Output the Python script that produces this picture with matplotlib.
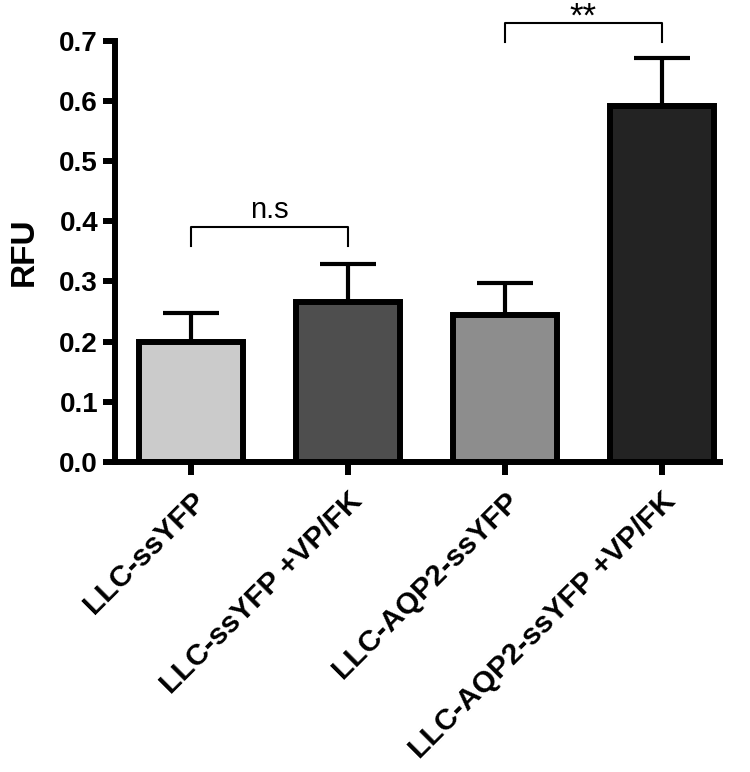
import numpy as np
import matplotlib.pyplot as plt

plt.rcParams['font.family'] = ['Liberation Sans', 'DejaVu Sans']

groups = ["LLC-ssYFP", "LLC-ssYFP +VP/FK", "LLC-AQP2-ssYFP", "LLC-AQP2-ssYFP +VP/FK"]
rfu = [0.200, 0.266, 0.244, 0.592]
sem = [0.048, 0.063, 0.053, 0.080]
colors = ["#cbcbcb", "#4e4e4e", "#8d8d8d", "#232323"]

# significance brackets: (left bar, right bar, height, drop, label, size, text offset)
brackets = [(0, 1, 0.39, 0.031, "n.s", 21, 0.015), (2, 3, 0.729, 0.031, "**", 25, -0.006)]

fig = plt.figure(figsize=(7.5, 7.72), dpi=100)
ax = fig.add_axes([0.153, 0.4016, 0.807, 0.5457])

x = np.arange(len(groups))
ax.bar(x, rfu, width=0.66, color=colors, edgecolor="black", linewidth=4.3, zorder=2)
ax.errorbar(x, rfu, yerr=[np.zeros(len(sem)), sem], fmt="none", ecolor="black",
            elinewidth=3, capsize=20, capthick=3, zorder=1)

for i, j, h, d, txt, fs, off in brackets:
    ax.plot([x[i], x[i], x[j], x[j]], [h - d, h, h, h - d], color="black", lw=1.5,
            clip_on=False)
    ax.text((x[i] + x[j]) / 2, h + off, txt, ha="center", va="baseline", fontsize=fs,
            clip_on=False)

ax.set_xlim(-0.484, 3.37)
ax.set_ylim(0, 0.7)
ax.set_yticks(np.arange(0, 0.71, 0.1))
ax.set_yticklabels([f"{v:.1f}" for v in np.arange(0, 0.71, 0.1)], fontsize=20,
                   fontweight="bold")
ax.set_xticks(x)
ax.set_xticklabels(groups, rotation=45, ha="right", rotation_mode="anchor",
                   fontsize=21.5, fontweight="bold")
ax.set_ylabel("RFU", fontsize=24, fontweight="bold", labelpad=14)

for s in ["top", "right"]:
    ax.spines[s].set_visible(False)
for s in ["left", "bottom"]:
    ax.spines[s].set_linewidth(4.3)
ax.tick_params(axis="both", length=9, width=4.3, pad=3)
ax.tick_params(axis="x", pad=9)

plt.savefig("out.png", dpi=100)
